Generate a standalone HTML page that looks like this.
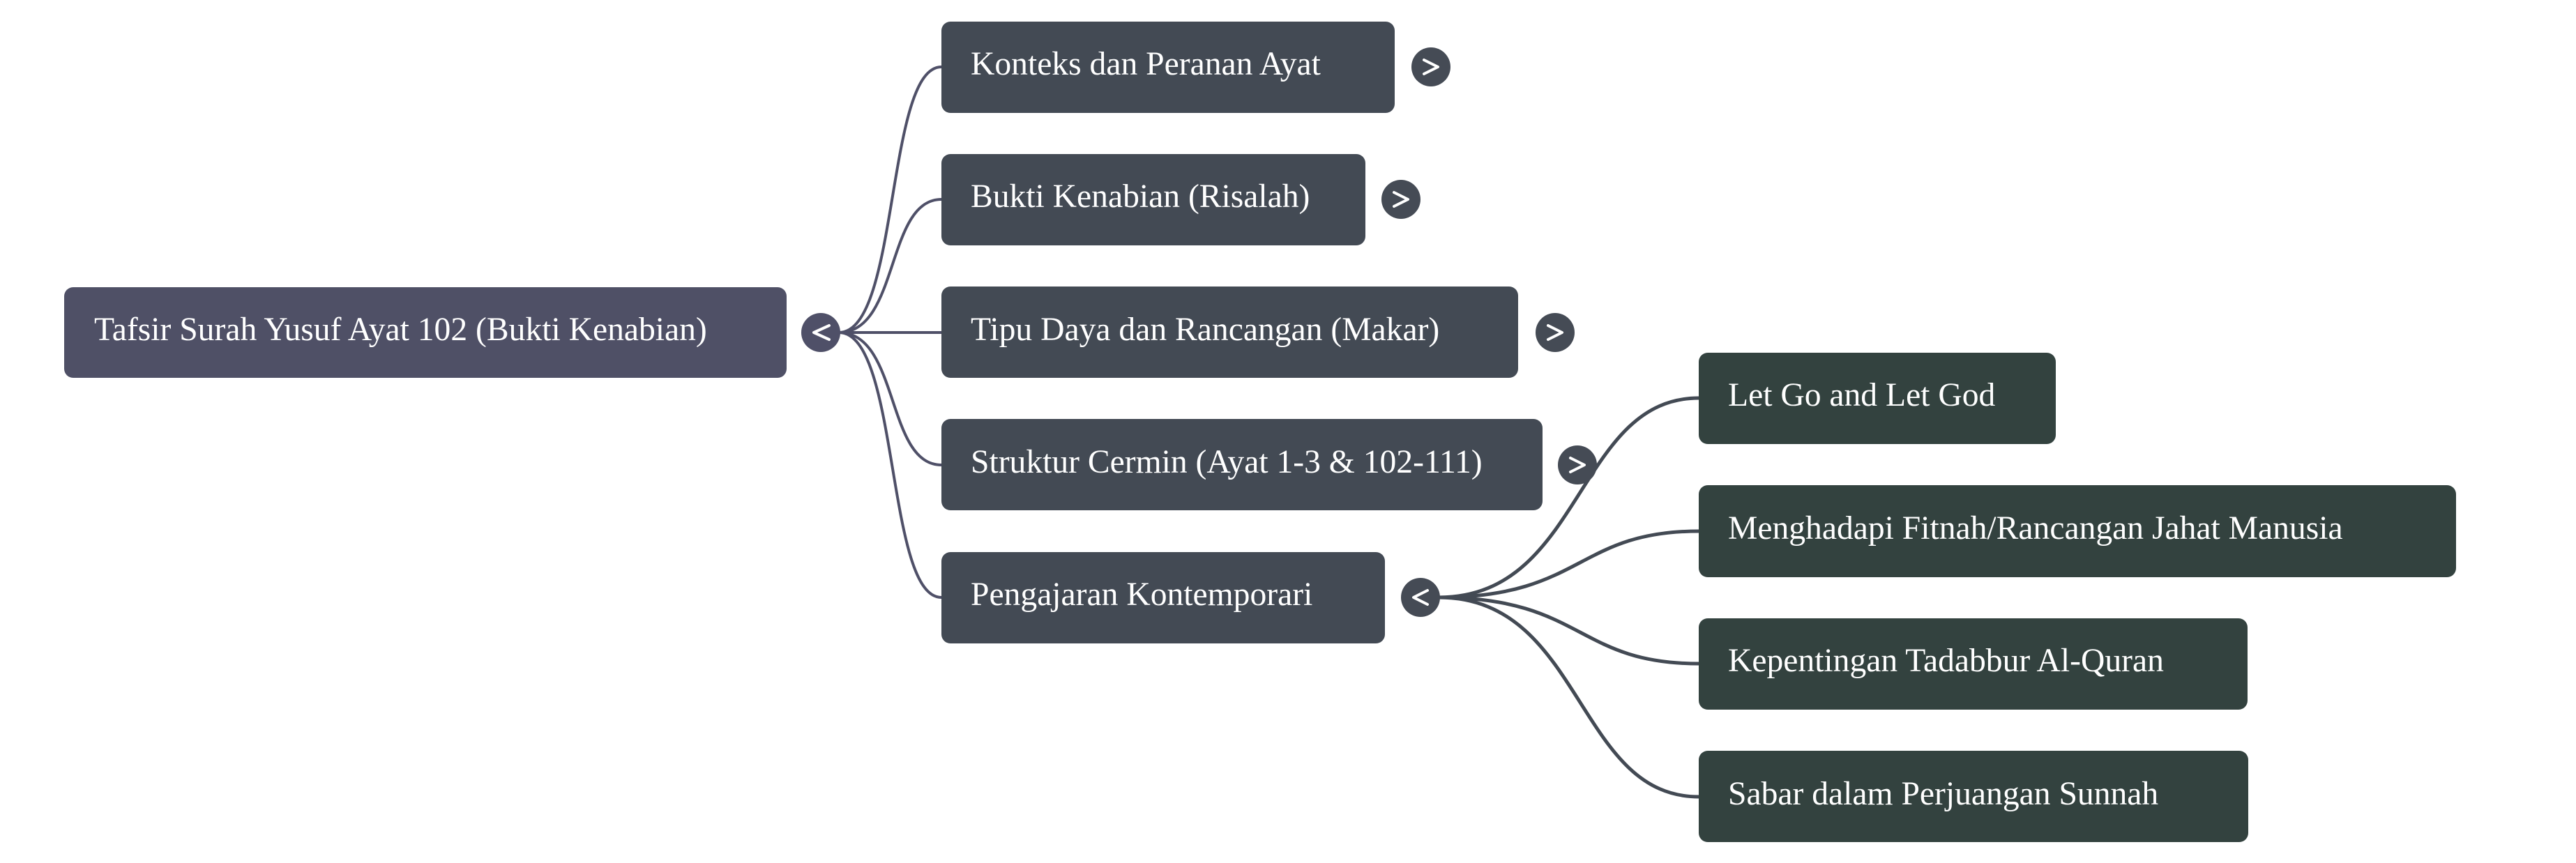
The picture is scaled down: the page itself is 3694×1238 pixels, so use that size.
<!DOCTYPE html>
<html><head><meta charset="utf-8"><style>
html,body{margin:0;padding:0;background:#fff;width:3694px;height:1238px;overflow:hidden}
svg text{font-family:"Liberation Serif",serif;font-size:47.6px;fill:#fff;dominant-baseline:central}
</style></head><body>
<svg width="3694" height="1238" viewBox="0 0 3694 1238" xmlns="http://www.w3.org/2000/svg">
<g fill="none" stroke="#4f5068" stroke-width="4">
<path d="M1203 477 C1290 477 1270 96 1350 96"/>
<path d="M1203 477 C1290 477 1270 286 1350 286"/>
<path d="M1203 477 L1350 477"/>
<path d="M1203 477 C1290 477 1270 667 1350 667"/>
<path d="M1203 477 C1290 477 1270 857 1350 857"/>
</g>
<g fill="none" stroke="#434a54" stroke-width="5">
<path d="M2063 857 C2270 857 2260 571 2436 571"/>
<path d="M2063 857 C2270 857 2260 762 2436 762"/>
<path d="M2063 857 C2270 857 2260 952 2436 952"/>
<path d="M2063 857 C2270 857 2260 1143 2436 1143"/>
</g>
<rect x="92" y="412" width="1036" height="130" rx="13" fill="#4f5066"/>
<g transform="translate(0,-4)">
<text x="135" y="477">Tafsir Surah Yusuf Ayat 102 (Bukti Kenabian)</text>
</g>
<g fill="#434a54">
<rect x="1350" y="31" width="650" height="131" rx="13"/>
<rect x="1350" y="221" width="608" height="131" rx="13"/>
<rect x="1350" y="411" width="827" height="131" rx="13"/>
<rect x="1350" y="601" width="862" height="131" rx="13"/>
<rect x="1350" y="792" width="636" height="131" rx="13"/>
</g>
<g transform="translate(0,-4)">
<text x="1392" y="96">Konteks dan Peranan Ayat</text>
<text x="1392" y="286">Bukti Kenabian (Risalah)</text>
<text x="1392" y="477">Tipu Daya dan Rancangan (Makar)</text>
<text x="1392" y="667">Struktur Cermin (Ayat 1-3 &amp; 102-111)</text>
<text x="1392" y="857">Pengajaran Kontemporari</text>
</g>
<g fill="#33423f">
<rect x="2436" y="506" width="512" height="131" rx="13"/>
<rect x="2436" y="696" width="1086" height="132" rx="13"/>
<rect x="2436" y="887" width="787" height="131" rx="13"/>
<rect x="2436" y="1077" width="788" height="131" rx="13"/>
</g>
<g transform="translate(0,-4)">
<text x="2478" y="571">Let Go and Let God</text>
<text x="2478" y="762">Menghadapi Fitnah/Rancangan Jahat Manusia</text>
<text x="2478" y="952">Kepentingan Tadabbur Al-Quran</text>
<text x="2478" y="1143">Sabar dalam Perjuangan Sunnah</text>
</g>
<circle cx="1177" cy="477" r="28" fill="#4f5068"/>
<g fill="#454b55">
<circle cx="2052" cy="96" r="28"/>
<circle cx="2009" cy="286" r="28"/>
<circle cx="2230" cy="477" r="28"/>
<circle cx="2262" cy="667" r="28"/>
<circle cx="2037" cy="857" r="28"/>
</g>
<g fill="none" stroke="#fff" stroke-width="4" stroke-linecap="round" stroke-linejoin="round">
<polyline points="1189,467 1167,477 1189,487"/>
<polyline points="2042,86 2062,96 2042,106"/>
<polyline points="1999,276 2019,286 1999,296"/>
<polyline points="2220,467 2240,477 2220,487"/>
<polyline points="2252,657 2272,667 2252,677"/>
<polyline points="2047,847 2027,857 2047,867"/>
</g>
</svg>
</body></html>
